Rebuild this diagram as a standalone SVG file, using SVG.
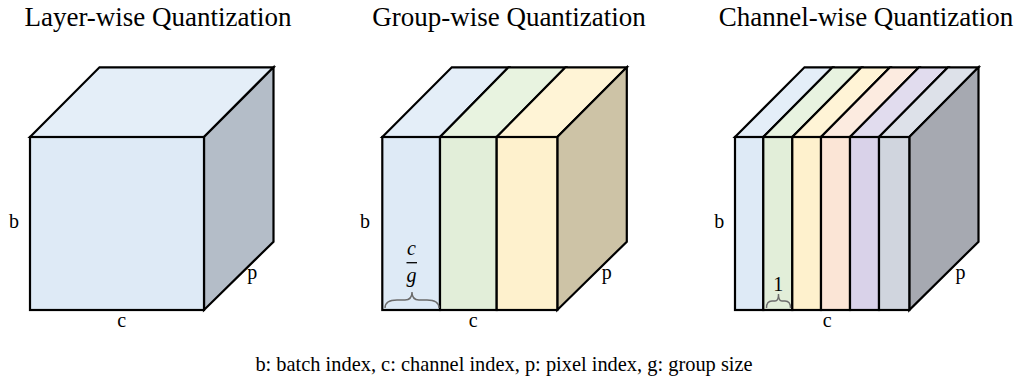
<svg xmlns="http://www.w3.org/2000/svg" width="1018" height="377" viewBox="0 0 1018 377">
<style>
.t{font-family:"Liberation Serif","Times New Roman",serif;fill:#000;}
.title{font-size:27px;text-anchor:middle;}
.lbl{font-size:20px;text-anchor:middle;}
.cap{font-size:20.4px;text-anchor:middle;}
.math{font-family:"Liberation Serif","DejaVu Serif",serif;font-style:italic;font-size:20px;text-anchor:middle;}
.f{stroke:#000;stroke-width:2.2;stroke-linejoin:miter;}
.brace{fill:none;stroke:#6b6b6b;stroke-width:1.4;}
</style>
<rect width="1018" height="377" fill="#fff"/>
<text class="t title" x="158" y="26">Layer-wise Quantization</text>
<text class="t title" x="509" y="26">Group-wise Quantization</text>
<text class="t title" x="866" y="26">Channel-wise Quantization</text>

<g id="layer-cube">
<polygon class="f" fill="#e4eef8" points="30,137 99.5,67.3 273.5,67.3 204,137"/>
<polygon class="f" fill="#b4bdc8" points="204,137 273.5,67.3 273.5,241.7 204,310"/>
<rect class="f" fill="#deeaf6" x="30" y="137" width="174" height="173"/>
<text class="t lbl" x="14" y="228">b</text>
<text class="t lbl" x="252.3" y="279">p</text>
<text class="t lbl" x="121.7" y="327">c</text>
</g>

<g id="group-cube">
<polygon class="f" fill="#e4eef8" points="382.3,137 451.8,67.3 508.5,67.3 440,137"/>
<polygon class="f" fill="#e8f3e0" points="440,137 508.5,67.3 565.5,67.3 496.7,137"/>
<polygon class="f" fill="#fff4d6" points="496.7,137 565.5,67.3 626.8,67.3 557.3,137"/>
<polygon class="f" fill="#cdc3a6" points="557.3,137 626.8,67.3 626.8,241.7 557.3,310"/>
<rect class="f" fill="#deeaf6" x="382.3" y="137" width="57.7" height="173"/>
<rect class="f" fill="#e2eed9" x="440" y="137" width="56.7" height="173"/>
<rect class="f" fill="#fef1cd" x="496.7" y="137" width="60.6" height="173"/>
<text class="t math" x="411.5" y="255">c</text>
<line x1="406.5" y1="262.7" x2="417" y2="262.7" stroke="#000" stroke-width="1.3"/>
<text class="t math" x="411.5" y="282">g</text>
<path class="brace" d="M385,308 Q385,300 397,300 L405,300 Q412,300 412,292 Q412,300 419,300 L427,300 Q439,300 439,308"/>
<text class="t lbl" x="365" y="228">b</text>
<text class="t lbl" x="606.7" y="279">p</text>
<text class="t lbl" x="473.3" y="327">c</text>
</g>

<g id="channel-cube">
<polygon class="f" fill="#e4eef8" points="735,137 804.5,67.3 832.5,67.3 763.3,137"/>
<polygon class="f" fill="#e8f3e0" points="763.3,137 832.5,67.3 861.5,67.3 792.3,137"/>
<polygon class="f" fill="#fff4d6" points="792.3,137 861.5,67.3 890,67.3 821,137"/>
<polygon class="f" fill="#fcebe0" points="821,137 890,67.3 919,67.3 850,137"/>
<polygon class="f" fill="#e1dcee" points="850,137 919,67.3 948,67.3 879,137"/>
<polygon class="f" fill="#dde1e9" points="879,137 948,67.3 978.5,67.3 909.3,137"/>
<polygon class="f" fill="#a6a9b1" points="909.3,137 978.5,67.3 978.5,241.7 909.3,310"/>
<rect class="f" fill="#deeaf6" x="735" y="137" width="28.3" height="173"/>
<rect class="f" fill="#e2eed9" x="763.3" y="137" width="29" height="173"/>
<rect class="f" fill="#fef1cd" x="792.3" y="137" width="28.7" height="173"/>
<rect class="f" fill="#fbe5d6" x="821" y="137" width="29" height="173"/>
<rect class="f" fill="#d9d2e9" x="850" y="137" width="29" height="173"/>
<rect class="f" fill="#d0d5de" x="879" y="137" width="30.3" height="173"/>
<text class="t lbl" x="778.3" y="291">1</text>
<path class="brace" d="M766.5,308 Q766.5,301 772,301 L775,301 Q778.5,301 778.5,294 Q778.5,301 782,301 L785,301 Q790.5,301 790.5,308"/>
<text class="t lbl" x="719.2" y="228">b</text>
<text class="t lbl" x="960.5" y="279">p</text>
<text class="t lbl" x="827.2" y="327">c</text>
</g>

<g id="connectors"></g>

<text class="t cap" x="504" y="371">b: batch index, c: channel index, p: pixel index, g: group size</text>
</svg>
